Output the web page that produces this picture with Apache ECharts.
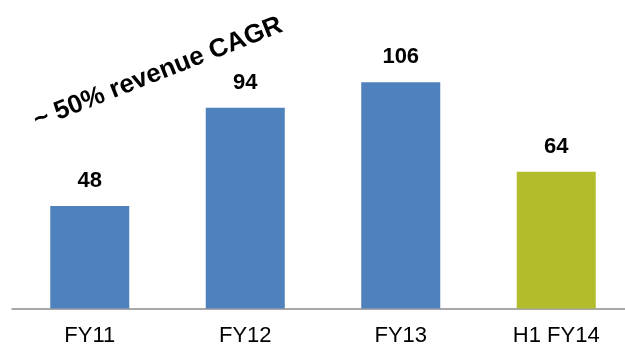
<!DOCTYPE html>
<html>
<head>
<meta charset="utf-8">
<script src="https://cdn.jsdelivr.net/npm/echarts@6/dist/echarts.min.js"></script>
<style>
  html, body { margin: 0; padding: 0; background: #fff; overflow: hidden; }
  /* the last category runs slightly past the right edge of the window */
  #chart { width: 634px; height: 348px; }
</style>
</head>
<body>
<div id="chart"></div>
<script>
// Revenue by period
const categories = ['FY11', 'FY12', 'FY13', 'H1 FY14'];
const revenue = [48, 94, 106, 64];
const barColors = ['#4F81BD', '#4F81BD', '#4F81BD', '#B3BD2B'];
const annotation = '~ 50% revenue CAGR';

const FONT = '"Liberation Sans", Arial, Helvetica, sans-serif';

const chart = echarts.init(document.getElementById('chart'));
chart.setOption({
  animation: false,
  grid: { left: 12, right: 0, top: 9.6, bottom: 39.5, containLabel: false },
  xAxis: {
    type: 'category',
    data: categories,
    axisLine: { lineStyle: { color: '#8C8C8C', width: 1.5 } },
    axisTick: { length: 7, lineStyle: { color: '#8C8C8C', width: 1.5 } },
    axisLabel: { color: '#000', fontFamily: FONT, fontSize: 22, margin: 16.5 }
  },
  yAxis: {
    type: 'value', min: 0, max: 140, show: false,
    splitLine: { show: false }
  },
  series: [{
    type: 'bar',
    barWidth: 79,
    data: revenue.map((v, i) => ({ value: v, itemStyle: { color: barColors[i] } })),
    label: {
      show: true, position: 'top', distance: 14,
      color: '#000', fontFamily: FONT, fontSize: 22, fontWeight: 'bold'
    }
  }],
  graphic: [{
    type: 'text',
    x: 158, y: 73,
    rotation: 21.5 * Math.PI / 180,
    style: {
      text: annotation,
      fill: '#000',
      font: 'bold 26px ' + FONT,
      textAlign: 'center',
      textVerticalAlign: 'middle'
    }
  }]
});
</script>
</body>
</html>
